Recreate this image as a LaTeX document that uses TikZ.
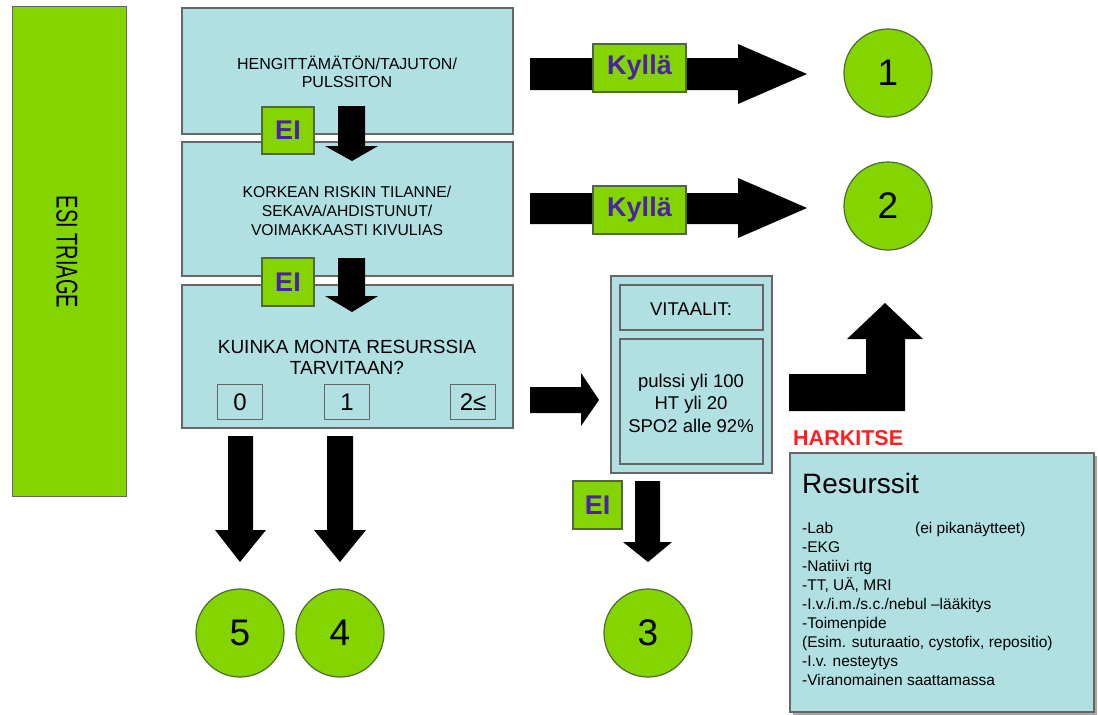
\documentclass[tikz,border=0pt]{standalone}
\usepackage{fontspec}
\setmainfont{Liberation Sans}
\definecolor{boxblue}{HTML}{B0E0E2}
\definecolor{tgreen}{HTML}{84D400}
\definecolor{tpurple}{HTML}{4A22A8}
\definecolor{tred}{HTML}{FF1F1F}
\definecolor{bord}{HTML}{666666}
\definecolor{gbord}{HTML}{4F6A35}
\newcommand{\fs}[2]{\fontsize{#1}{#2}\selectfont}
\tikzset{
  bluebox/.style={draw=bord, fill=boxblue, line width=1.3pt, inner sep=0pt, outer sep=0pt, anchor=north west},
  greenlbl/.style={draw=gbord, fill=tgreen, line width=1.2pt, inner sep=0pt, outer sep=0pt, anchor=north west, text=tpurple, font=\bfseries\fs{27}{30}},
  endcirc/.style={circle, draw=gbord, fill=tgreen, line width=1.2pt, minimum size=88pt, inner sep=0pt, font=\fs{37}{40}},
  numbox/.style={draw=bord, fill=boxblue, line width=1.2pt, minimum width=45pt, minimum height=35pt, inner sep=0pt, anchor=north west, font=\fs{24}{26}},
  boxtext/.style={align=center, inner sep=0pt},
  blockarrow/.style={fill=black},
  listline/.style={anchor=base west, inner sep=0pt, font=\fs{15.5}{19}}
}
\begin{document}
\begin{tikzpicture}[x=1pt,y=-1pt]
\useasboundingbox (0,0) rectangle (1098,715);

% left bar
\node[draw=bord, fill=tgreen, line width=1.2pt, minimum width=114pt, minimum height=490pt, inner sep=0pt, anchor=north west] (bar) at (12,6) {};
\node[rotate=-90, inner sep=0pt, font=\fs{20}{22}] (bartext) at (67,252) {\scalebox{1}[1.5]{ESI TRIAGE}};

% main question boxes
\node[bluebox, minimum width=331pt, minimum height=126pt] (b1) at (182,8) {};
\node[bluebox, minimum width=331pt, minimum height=134pt] (b2) at (182,142) {};
\node[bluebox, minimum width=331pt, minimum height=143pt] (b3) at (182,285) {};

\node[boxtext, font=\fs{16}{18}] (t1) at (347,72) {HENGITTÄMÄTÖN/TAJUTON/\\PULSSITON};
\node[boxtext, font=\fs{15.7}{19}] (t2) at (347,211) {KORKEAN RISKIN TILANNE/\\SEKAVA/AHDISTUNUT/\\VOIMAKKAASTI KIVULIAS};
\node[boxtext, font=\fs{19}{21}] (t3) at (347,357) {KUINKA MONTA RESURSSIA\\TARVITAAN?};

\node[numbox] (n0) at (217,384) {0};
\node[numbox] (n1) at (324,384) {1};
\node[numbox] (n2) at (450,384) {2≤};

% down arrows between boxes
\fill[blockarrow] (338,106) -- (365,106) -- (365,146) -- (378,146) -- (352,161) -- (325,146) -- (338,146) -- cycle;
\fill[blockarrow] (338,258) -- (365,258) -- (365,296) -- (378,296) -- (352,312) -- (325,296) -- (338,296) -- cycle;
\node[greenlbl, minimum width=52pt, minimum height=47pt] (ei1) at (262,107) {EI};
\node[greenlbl, minimum width=52pt, minimum height=48pt] (ei2) at (262,258) {EI};

% Kyllä arrows
\fill[blockarrow] (530,58) -- (738,58) -- (738,44) -- (807,74) -- (738,104) -- (738,90) -- (530,90) -- cycle;
\fill[blockarrow] (530,193) -- (738,193) -- (738,178) -- (807,208) -- (738,238) -- (738,224) -- (530,224) -- cycle;
\node[greenlbl, minimum width=93pt, minimum height=48pt] (k1) at (593,44) {Kyllä};
\node[greenlbl, minimum width=93pt, minimum height=48pt] (k2) at (593,186) {Kyllä};

% result circles
\node[endcirc] (c1) at (888,73) {1};
\node[endcirc] (c2) at (888,206) {2};
\node[endcirc] (c5) at (240,633) {5};
\node[endcirc] (c4) at (340,633) {4};
\node[endcirc] (c3) at (648,633) {3};

% arrows to 5 and 4
\fill[blockarrow] (228,436) -- (253,436) -- (253,530) -- (266,530) -- (240,562) -- (215,530) -- (228,530) -- cycle;
\fill[blockarrow] (327,436) -- (353,436) -- (353,530) -- (366,530) -- (340,562) -- (314,530) -- (327,530) -- cycle;

% arrow to vitals
\fill[blockarrow] (530,387) -- (581,387) -- (581,373) -- (599,400) -- (581,426) -- (581,413) -- (530,413) -- cycle;

% vitals box
\node[bluebox, minimum width=161pt, minimum height=197pt] (vit) at (611,276) {};
\node[bluebox, minimum width=143pt, minimum height=45pt] (vith) at (620,285) {};
\node[bluebox, minimum width=143pt, minimum height=125pt] (vitb) at (620,339) {};
\node[boxtext, font=\fs{18.5}{22}] (vitht) at (691,309) {VITAALIT:};
\node[boxtext, font=\fs{18.5}{22.5}] (vitbt) at (691,403) {pulssi yli 100\\HT yli 20\\SPO2 alle 92\%};

% arrow to 3
\fill[blockarrow] (635,481) -- (660,481) -- (660,542) -- (672,542) -- (648,562) -- (623,542) -- (635,542) -- cycle;
\node[greenlbl, minimum width=49pt, minimum height=48pt] (ei3) at (573,481) {EI};

% bent arrow up
\fill[blockarrow] (789,374) -- (866,374) -- (866,339) -- (847,339) -- (885,303) -- (923,339) -- (905,339) -- (905,411) -- (789,411) -- cycle;

% HARKITSE + Resurssit
\node[anchor=west, inner sep=0pt, text=tred, font=\bfseries\fs{21.5}{24}] (hark) at (793,438) {HARKITSE};
\fill[black!35] (793,456) rectangle (1097,715);
\node[bluebox, minimum width=304pt, minimum height=259pt] (res) at (790,453) {};
\node[anchor=west, inner sep=0pt, font=\fs{28}{30}] (restitle) at (802,483) {Resurssit};
\node[listline] (r1) at (802,533.5) {\makebox[113pt][l]{-Lab}(ei pikanäytteet)};
\foreach \t [count=\i from 2] in {{-EKG},{-Natiivi rtg},{-TT, UÄ, MRI},{-I.v./i.m./s.c./nebul –lääkitys},{-Toimenpide},{(Esim. suturaatio, cystofix, repositio)},{-I.v. nesteytys},{-Viranomainen saattamassa}}
  \node[listline] (r\i) at (802,{533.5+19*(\i-1)}) {\t};
\end{tikzpicture}
\end{document}
